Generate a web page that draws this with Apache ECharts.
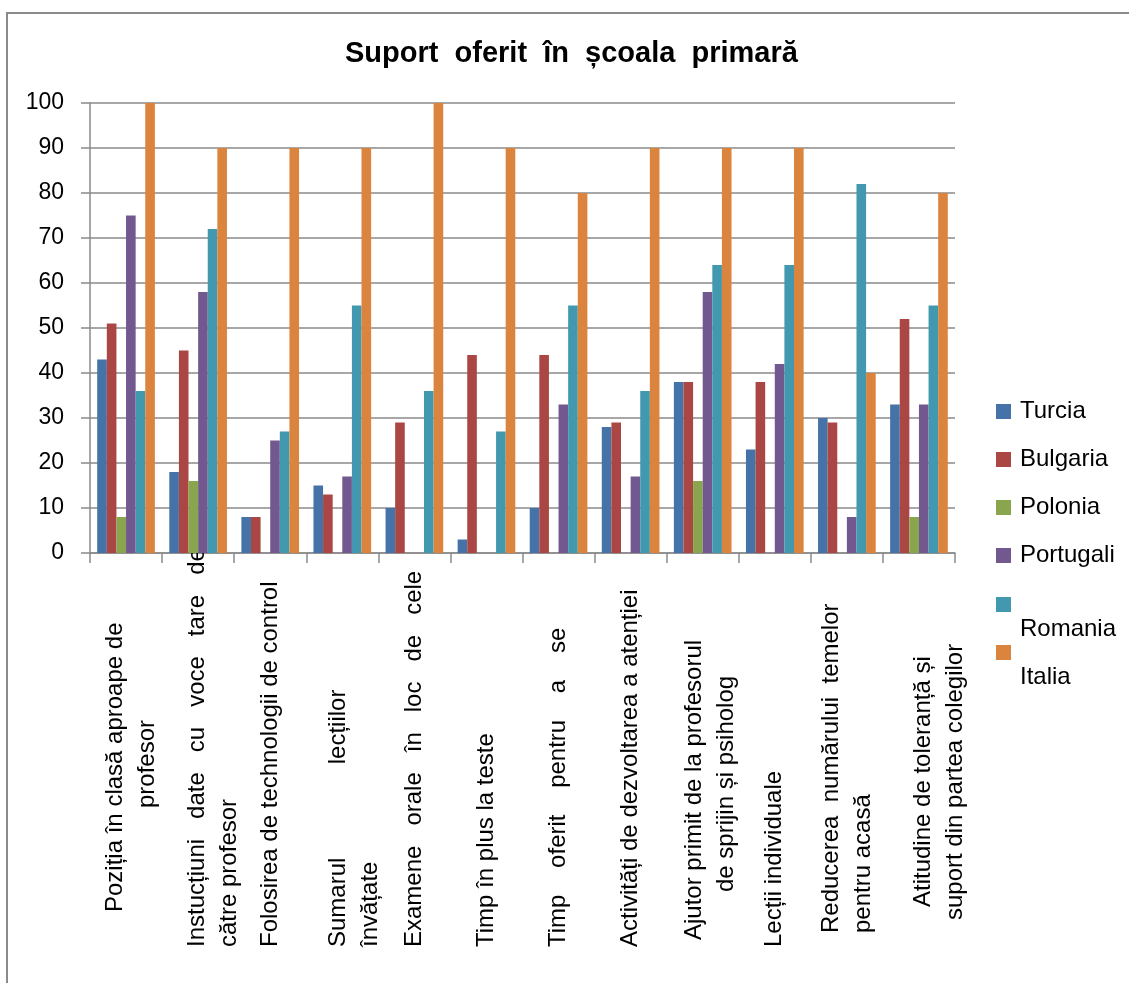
<!DOCTYPE html>
<html>
<head>
<meta charset="utf-8">
<script src="https://cdn.jsdelivr.net/npm/echarts@6/dist/echarts.min.js"></script>
<style>
html, body { margin: 0; padding: 0; background: #ffffff; }
#chart { width: 1129px; height: 983px; }
</style>
</head>
<body>
<div id="chart"></div>
<script>
// Support measures offered in primary school, by country (%)
const categories = [
  'Poziția în clasă aproape de profesor',
  'Instucțiuni date cu voce tare de către profesor',
  'Folosirea de technologii de control',
  'Sumarul lecțiilor învățate',
  'Examene orale în loc de cele',
  'Timp în plus la teste',
  'Timp oferit pentru a se',
  'Activități de dezvoltarea a atenției',
  'Ajutor primit de la profesorul de sprijin și psiholog',
  'Lecții individuale',
  'Reducerea numărului temelor pentru acasă',
  'Atitudine de toleranță și suport din partea colegilor'
];

// Tick label text as printed under the axis (line breaks and spacing of the printed labels)
const tickLabels = [
  'Poziția în clasă aproape de\nprofesor',
  'Instucțiuni   date   cu   voce   tare   de\ncătre profesor',
  'Folosirea de technologii de control',
  'Sumarul              lecțiilor\nînvățate',
  'Examene   orale   în   loc   de   cele',
  'Timp în plus la teste',
  'Timp    oferit    pentru    a    se',
  'Activități de dezvoltarea a atenției',
  'Ajutor primit de la profesorul\nde sprijin și psiholog',
  'Lecții individuale',
  'Reducerea  numărului  temelor\npentru acasă',
  'Atitudine de toleranță și\nsuport din partea colegilor'
];

const seriesNames = ['Turcia', 'Bulgaria', 'Polonia', 'Portugali', 'Romania', 'Italia'];

const turcia    = [43, 18,  8, 15, 10,  3, 10, 28, 38, 23, 30, 33];
const bulgaria  = [51, 45,  8, 13, 29, 44, 44, 29, 38, 38, 29, 52];
const polonia   = [ 8, 16,  0,  0,  0,  0,  0,  0, 16,  0,  0,  8];
const portugali = [75, 58, 25, 17,  0,  0, 33, 17, 58, 42,  8, 33];
const romania   = [36, 72, 27, 55, 36, 27, 55, 36, 64, 64, 82, 55];
const italia    = [100, 90, 90, 90, 100, 90, 80, 90, 90, 90, 40, 80];

const yTicks = [0, 10, 20, 30, 40, 50, 60, 70, 80, 90, 100];

// ---- presentation ----
const colors = ['#4572A7', '#AA4643', '#89A54E', '#71588F', '#4198AF', '#DB843D'];
const seriesValues = [turcia, bulgaria, polonia, portugali, romania, italia];
const FONT = 'Liberation Sans';
const GRID_LINE = '#8a8a8a';

// offset (px) along the reading direction for each printed line of a tick label
const labelIndent = [[35, 139], [0, 0], [0], [0, 0], [0], [0], [0], [0], [7, 55], [0], [14, 14], [40, 27]];
// sideways nudge (px, to the right) of each tick label block
const labelShift = [5, 15, 0, 12, 0, 0, 0, 0, 8, 0, 0, 20];

const rich = {};
tickLabels.forEach((txt, i) => {
  txt.split('\n').forEach((ln, j) => {
    rich['t' + i + '_' + j] = {
      fontFamily: FONT, fontSize: 24, color: '#000', lineHeight: 32,
      padding: [2 * labelShift[i], 0, 0, (labelIndent[i] && labelIndent[i][j]) || 0]
    };
  });
});

const chart = echarts.init(document.getElementById('chart'), null, { renderer: 'canvas' });

const legendText = { fontFamily: FONT, fontSize: 24, color: '#000', lineHeight: 24, padding: [0, 0, 0, 4] };

chart.setOption({
  backgroundColor: '#ffffff',
  animation: false,
  color: colors,
  title: {
    text: 'Suport  oferit  în  școala  primară',
    left: 345,
    top: 39,
    padding: 0,
    textStyle: { fontFamily: FONT, fontWeight: 'bold', fontSize: 29, color: '#000' }
  },
  graphic: [{
    type: 'rect',
    shape: { x: 7, y: 13, width: 1200, height: 1000 },
    style: { fill: 'none', stroke: '#8a8a8a', lineWidth: 2 },
    silent: true
  }],
  legend: [
    {
      data: seriesNames.slice(0, 4),
      orient: 'vertical', left: 996, top: 399.5,
      itemWidth: 15, itemHeight: 15, itemGap: 24,
      icon: 'rect', padding: 0,
      textStyle: legendText
    },
    {
      data: ['Romania'],
      orient: 'vertical', left: 996, top: 554.5,
      itemWidth: 15, itemHeight: 15, icon: 'rect', padding: 0,
      formatter: n => '\n' + n,
      textStyle: Object.assign({}, legendText, { lineHeight: 50 })
    },
    {
      data: ['Italia'],
      orient: 'vertical', left: 996, top: 602.5,
      itemWidth: 15, itemHeight: 15, icon: 'rect', padding: 0,
      formatter: n => '\n' + n,
      textStyle: Object.assign({}, legendText, { lineHeight: 50 })
    }
  ],
  grid: { left: 90, right: 174, top: 103, bottom: 430, containLabel: false },
  xAxis: {
    type: 'category',
    data: categories,
    axisLine: { show: true, lineStyle: { color: GRID_LINE, width: 1.5 } },
    axisTick: { show: true, length: 10, alignWithLabel: false, lineStyle: { color: GRID_LINE, width: 1.5 } },
    axisLabel: {
      interval: 0,
      rotate: 90,
      align: 'left',
      verticalAlign: 'middle',
      margin: 394,
      formatter: (value, index) =>
        tickLabels[index].split('\n').map((ln, j) => '{t' + index + '_' + j + '|' + ln + '}').join('\n'),
      rich: rich
    }
  },
  yAxis: {
    type: 'value',
    min: yTicks[0],
    max: yTicks[yTicks.length - 1],
    interval: yTicks[1] - yTicks[0],
    axisLine: { show: true, lineStyle: { color: GRID_LINE, width: 1.5 } },
    axisTick: { show: true, length: 9, lineStyle: { color: GRID_LINE, width: 1.5 } },
    splitLine: { show: true, lineStyle: { color: GRID_LINE, width: 1.5 } },
    axisLabel: { fontFamily: FONT, fontSize: 23, color: '#000', margin: 26 }
  },
  series: seriesNames.map((name, k) => ({
    name: name,
    type: 'bar',
    data: seriesValues[k],
    barGap: 0,
    barCategoryGap: '20%',
    itemStyle: { color: colors[k] }
  }))
});
</script>
</body>
</html>
